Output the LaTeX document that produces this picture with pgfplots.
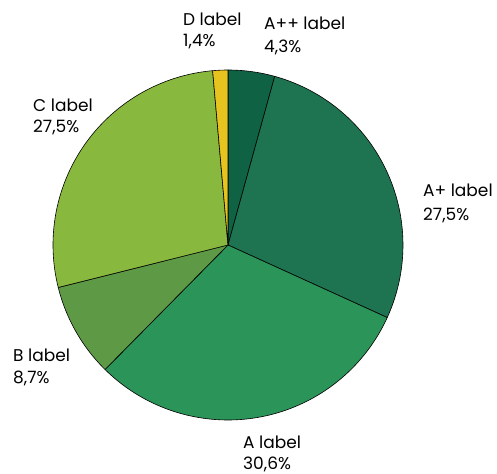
\documentclass[border=0pt]{standalone}
\usepackage{pgfplots}
\pgfplotsset{compat=1.18}
\usepackage{pgfplotstable}
\usepgfplotslibrary{polar}
\usepackage{fontspec}
\setmainfont{Poppins}
\definecolor{cApp}{HTML}{0F6344}
\definecolor{cAp}{HTML}{1E7450}
\definecolor{cA}{HTML}{2A9459}
\definecolor{cB}{HTML}{5E9A46}
\definecolor{cC}{HTML}{88B93E}
\definecolor{cD}{HTML}{E6C31F}
\pgfplotstableread[col sep=comma]{
label,value,color
A++,4.3,cApp
A+,27.5,cAp
A,30.6,cA
B,8.7,cB
C,27.5,cC
D,1.4,cD
}\piedata
\begin{document}
\begin{tikzpicture}[every node/.style={font=\fontsize{17bp}{19bp}\selectfont, inner sep=0pt}]
\useasboundingbox (-228bp,-229bp) rectangle (269bp,245bp);
\begin{polaraxis}[
  at={(0,0)}, anchor=center,
  scale only axis, width=350bp, height=350bp,
  hide axis, ymin=0, ymax=1, xmin=0, xmax=360,
  clip=false,
]
\def\cum{0}
\pgfplotsforeachungrouped \i in {0,...,5}{
  \pgfplotstablegetelem{\i}{value}\of\piedata \let\v\pgfplotsretval
  \pgfplotstablegetelem{\i}{color}\of\piedata \let\c\pgfplotsretval
  \pgfmathsetmacro\startang{90-3.6*\cum}
  \pgfmathsetmacro\cum{\cum+\v}
  \pgfmathsetmacro\stopang{90-3.6*\cum}
  \edef\temp{\noexpand\addplot[draw=black, line width=0.6bp, line join=round, fill=\c, domain=\stopang:\startang, samples=80] ({x},{1}) -- (axis cs:0,0) -- cycle;}
  \temp
}
\end{polaraxis}
\node[anchor=base west] at (-45bp,219bp) {D label};
\node[anchor=base west] at (-45bp,198bp) {1,4\%};
\node[anchor=base west] at (36bp,215bp) {A++ label};
\node[anchor=base west] at (36bp,192bp) {4,3\%};
\node[anchor=base west] at (195bp,48bp) {A+ label};
\node[anchor=base west] at (195bp,25bp) {27,5\%};
\node[anchor=base west] at (15bp,-203bp) {A label};
\node[anchor=base west] at (15bp,-224bp) {30,6\%};
\node[anchor=base west] at (-215bp,-116bp) {B label};
\node[anchor=base west] at (-215bp,-138bp) {8,7\%};
\node[anchor=base west] at (-195bp,133bp) {C label};
\node[anchor=base west] at (-195bp,112bp) {27,5\%};
\end{tikzpicture}
\end{document}
